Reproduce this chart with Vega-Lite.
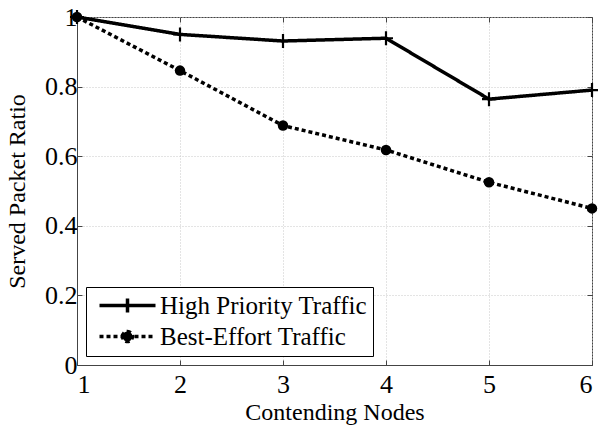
{
  "$schema": "https://vega.github.io/schema/vega-lite/v6.json",
  "width": 515,
  "height": 348,
  "autosize": {"type": "none"},
  "padding": {"left": 77, "top": 17, "right": 6, "bottom": 61},
  "background": "white",
  "config": {
    "font": "Liberation Serif",
    "view": {"stroke": "#444", "strokeWidth": 1},
    "axis": {
      "labelFont": "Liberation Serif",
      "labelFontSize": 26,
      "labelColor": "black",
      "titleFont": "Liberation Serif",
      "titleFontSize": 24,
      "titleFontWeight": "normal",
      "titleColor": "black",
      "domainColor": "#444",
      "tickColor": "#444",
      "tickSize": -5,
      "gridColor": "#c8c8c8",
      "gridDash": [1, 2],
      "gridWidth": 1
    },
    "legend": {
      "orient": "bottom-left",
      "offset": 9,
      "strokeColor": "black",
      "fillColor": "white",
      "padding": 6,
      "labelFont": "Liberation Serif",
      "labelFontSize": 25,
      "labelColor": "black",
      "labelLimit": 400,
      "labelOffset": 43,
      "rowPadding": 4,
      "symbolStrokeWidth": 3.5,
      "symbolStrokeColor": "black",
      "symbolFillColor": "black",
      "symbolSize": 100
    }
  },
  "data": {
    "values": [
      {"nodes": 1, "ratio": 1.0, "series": "High Priority Traffic"},
      {"nodes": 2, "ratio": 0.950, "series": "High Priority Traffic"},
      {"nodes": 3, "ratio": 0.931, "series": "High Priority Traffic"},
      {"nodes": 4, "ratio": 0.939, "series": "High Priority Traffic"},
      {"nodes": 5, "ratio": 0.764, "series": "High Priority Traffic"},
      {"nodes": 6, "ratio": 0.790, "series": "High Priority Traffic"},
      {"nodes": 1, "ratio": 1.0, "series": "Best-Effort Traffic"},
      {"nodes": 2, "ratio": 0.846, "series": "Best-Effort Traffic"},
      {"nodes": 3, "ratio": 0.688, "series": "Best-Effort Traffic"},
      {"nodes": 4, "ratio": 0.618, "series": "Best-Effort Traffic"},
      {"nodes": 5, "ratio": 0.525, "series": "Best-Effort Traffic"},
      {"nodes": 6, "ratio": 0.450, "series": "Best-Effort Traffic"}
    ]
  },
  "layer": [
    {
      "mark": {"type": "line", "color": "black", "strokeWidth": 3.5},
      "encoding": {
        "x": {"field": "nodes", "type": "quantitative", "scale": {"domain": [1, 6], "nice": false, "zero": false},
              "axis": {"title": "Contending Nodes", "values": [1,2,3,4,5,6], "labelPadding": 11, "titlePadding": 3, "grid": true}},
        "y": {"field": "ratio", "type": "quantitative", "scale": {"domain": [0, 1], "nice": false},
              "axis": {"title": "Served Packet Ratio", "values": [0,0.2,0.4,0.6,0.8,1], "labelPadding": 5, "titlePadding": 15, "grid": true,
                       "labelExpr": "datum.value == 0 ? '0' : datum.value == 1 ? '1' : format(datum.value, '.1f')"}},
        "strokeDash": {"field": "series", "type": "nominal",
          "scale": {"domain": ["High Priority Traffic", "Best-Effort Traffic"], "range": [[1, 0], [4, 3]]},
          "legend": {"title": null,
            "encode": {"symbols": {"update": {"shape": {"signal": "datum.value == 'High Priority Traffic' ? 'M-1,0H10.2M4.6,-1.4V1.4' : 'M-1,0H10.2M3.6,0A1,1 0 1 1 5.6,0A1,1 0 1 1 3.6,0Z'"}}}}}}
      }
    },
    {
      "transform": [{"filter": "datum.series == 'High Priority Traffic'"}],
      "mark": {"type": "point", "shape": "M-1,0H1M0,-1V1", "size": 196, "stroke": "black", "strokeWidth": 2.2, "filled": false, "opacity": 1},
      "encoding": {
        "x": {"field": "nodes", "type": "quantitative", "axis": {"orient": "top", "labels": false, "title": null, "grid": false, "domain": false, "values": [1,2,3,4,5,6]}},
        "y": {"field": "ratio", "type": "quantitative", "axis": {"orient": "right", "labels": false, "title": null, "grid": false, "domain": false, "values": [0,0.2,0.4,0.6,0.8,1]}}
      }
    },
    {
      "transform": [{"filter": "datum.series == 'Best-Effort Traffic'"}],
      "mark": {"type": "point", "shape": "circle", "size": 110, "color": "black", "filled": true, "opacity": 1},
      "encoding": {
        "x": {"field": "nodes", "type": "quantitative", "axis": null},
        "y": {"field": "ratio", "type": "quantitative", "axis": null}
      }
    }
  ],
  "resolve": {"axis": {"x": "independent", "y": "independent"}}
}
